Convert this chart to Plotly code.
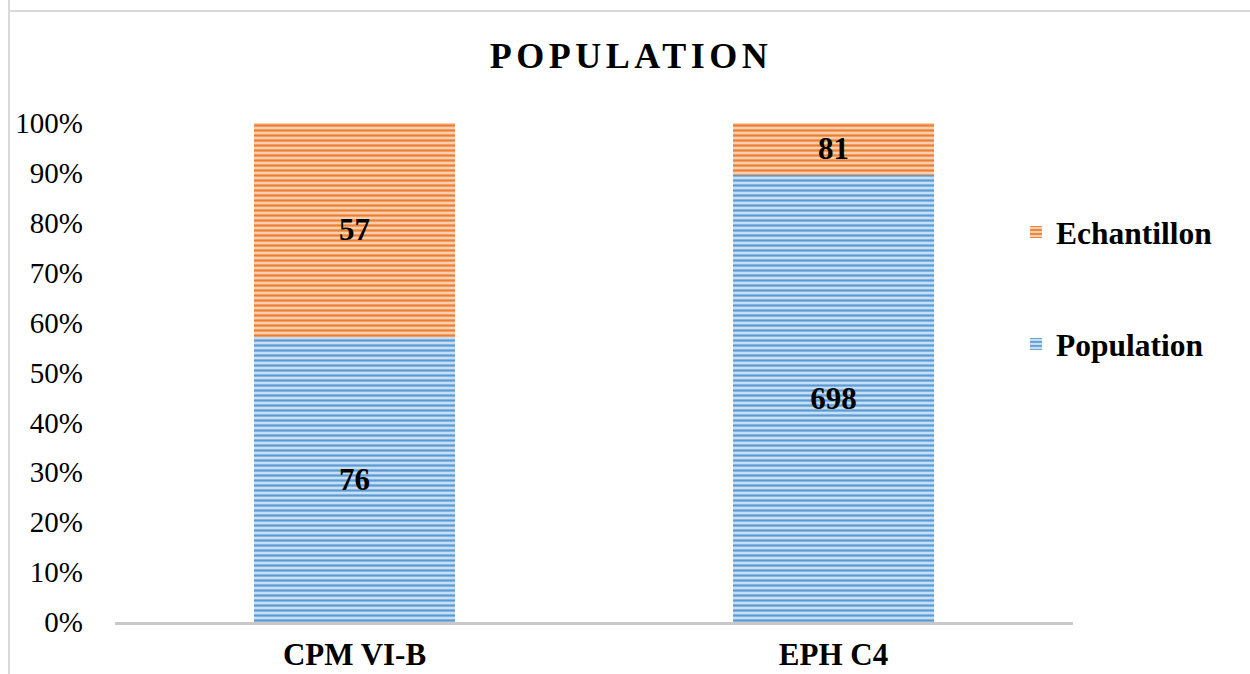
import plotly.graph_objects as go

# Chart data
categories = ["CPM VI-B", "EPH C4"]
population = [76, 698]
echantillon = [57, 81]
tick_vals = [0, 10, 20, 30, 40, 50, 60, 70, 80, 90, 100]
tick_text = [f"{v}%" for v in tick_vals]

FONT = "Liberation Serif, Times New Roman, serif"

W, H = 1250, 674
L, R, T, B = 115, 177, 123, 52
pw, ph = W - L - R, H - T - B


def px_x(x):
    return (x - L) / pw


def px_y(y):
    return (H - B - y) / ph


fig = go.Figure()

fig.add_trace(go.Bar(
    name="<b>Population</b>",
    x=categories,
    y=population,
    text=population,
    texttemplate="<b>%{text}</b>",
    textposition="inside",
    insidetextanchor="middle",
    textfont=dict(family=FONT, size=31, color="black"),
    marker=dict(
        color="#5B9BD5",
        line=dict(width=0),
        pattern=dict(shape="-", fgcolor="#5B9BD5", bgcolor="#C9DEF2",
                     size=5, solidity=0.45, fillmode="replace"),
    ),
    width=0.42,
    legendgroup="pop",
    legendrank=2,
))

fig.add_trace(go.Bar(
    name="<b>Echantillon</b>",
    x=categories,
    y=echantillon,
    text=echantillon,
    texttemplate="<b>%{text}</b>",
    textposition="inside",
    insidetextanchor="middle",
    textfont=dict(family=FONT, size=31, color="black"),
    marker=dict(
        color="#ED7D31",
        line=dict(width=0),
        pattern=dict(shape="-", fgcolor="#ED7D31", bgcolor="#F9CFB0",
                     size=5, solidity=0.45, fillmode="replace"),
    ),
    width=0.42,
    legendgroup="ech",
    legendrank=1,
))

fig.update_layout(
    width=W, height=H,
    barmode="stack",
    barnorm="percent",
    margin=dict(l=L, r=R, t=T, b=B, autoexpand=False),
    paper_bgcolor="white",
    plot_bgcolor="white",
    font=dict(family=FONT, color="black"),
    title=dict(
        text='<b><span style="letter-spacing:4.5px">POPULATION</span></b>',
        font=dict(family=FONT, size=36, color="black"),
        x=631 / W, xanchor="center",
        y=1 - 55 / H, yanchor="middle",
    ),
    xaxis=dict(
        showgrid=False,
        showline=True, linecolor="#C8C8C8", linewidth=3,
        ticks="", tickfont=dict(family=FONT, size=31, color="black"),
        tickprefix="<b>", ticksuffix="</b>",
        ticklabelstandoff=3,
        range=[-0.5, 1.5],
        fixedrange=True,
    ),
    yaxis=dict(
        range=[0, 100],
        tickvals=tick_vals, ticktext=tick_text,
        tickfont=dict(family=FONT, size=29, color="black"),
        showgrid=False, zeroline=False, showline=False,
        ticks="", ticklabelstandoff=31,
    ),
    legend=dict(
        x=px_x(1016), y=px_y(205), xanchor="left", yanchor="top",
        traceorder="grouped",
        tracegroupgap=68,
        font=dict(family=FONT, size=31.5, color="black"),
        bgcolor="rgba(0,0,0,0)",
    ),
    showlegend=True,
    shapes=[
        # outer chart frame
        dict(type="line", xref="paper", yref="paper",
             x0=px_x(9), x1=px_x(9), y0=px_y(-5), y1=px_y(680),
             line=dict(color="#D9D9D9", width=2)),
        dict(type="line", xref="paper", yref="paper",
             x0=px_x(9), x1=px_x(1260), y0=px_y(11), y1=px_y(11),
             line=dict(color="#D9D9D9", width=2)),
    ],
)

fig.write_html("out.html")
